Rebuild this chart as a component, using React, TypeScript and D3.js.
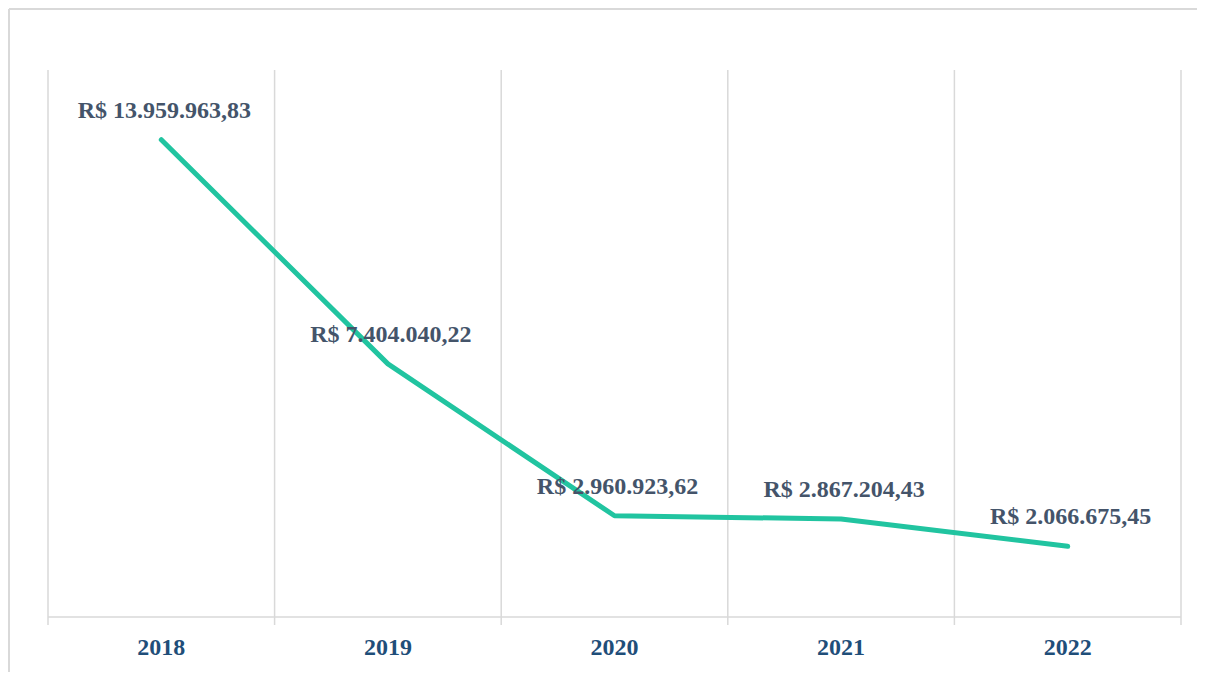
import React from "react";
import * as d3 from "d3";

const years = ["2018", "2019", "2020", "2021", "2022"];
const values = [13959963.83, 7404040.22, 2960923.62, 2867204.43, 2066675.45];
const yMax = 16000000;

const width = 1189;
const height = 664;
const margin = { top: 62, right: 16, bottom: 55, left: 40 };

const brl = d3.formatLocale({
  decimal: ",",
  thousands: ".",
  grouping: [3],
  currency: ["R$ ", ""],
});
const fmt = brl.format("$,.2f");

const App = () => {
  const x = d3
    .scaleBand()
    .domain(years)
    .range([margin.left, width - margin.right]);

  const y = d3
    .scaleLinear()
    .domain([0, yMax])
    .range([height - margin.bottom, margin.top]);

  const cx = (d) => x(d) + x.bandwidth() / 2;

  const line = d3
    .line()
    .x((d, i) => cx(years[i]))
    .y((d) => y(d));

  const base = y(0);
  const bounds = [...years.map((d) => x(d)), x(years[years.length - 1]) + x.bandwidth()];
  const font = "'Liberation Serif', 'Times New Roman', serif";

  return (
    <svg width={width} height={height} style={{ display: "block" }}>
      {/* only the top and left edges of the frame are in view */}
      <line x1={1} x2={width} y1={1} y2={1} stroke="#d9d9d9" strokeWidth={2} />
      <line x1={1} x2={1} y1={1} y2={height} stroke="#d9d9d9" strokeWidth={2} />
      {bounds.map((b, i) => (
        <line key={i} x1={b} x2={b} y1={margin.top} y2={base + 8} stroke="#d9d9d9" strokeWidth={1.5} />
      ))}
      <line x1={bounds[0]} x2={bounds[bounds.length - 1]} y1={base} y2={base} stroke="#d9d9d9" strokeWidth={1.5} />
      <path
        d={line(values)}
        fill="none"
        stroke="#21c4a0"
        strokeWidth={5}
        strokeLinecap="round"
        strokeLinejoin="round"
      />
      {values.map((v, i) => (
        <text
          key={i}
          x={cx(years[i]) + 3}
          y={y(v) - 22}
          textAnchor="middle"
          fontFamily={font}
          fontWeight="bold"
          fontSize={24}
          fill="#44546a"
        >
          {fmt(v)}
        </text>
      ))}
      {years.map((d) => (
        <text
          key={d}
          x={cx(d)}
          y={base + 38}
          textAnchor="middle"
          fontFamily={font}
          fontWeight="bold"
          fontSize={24}
          fill="#1f4e79"
        >
          {d}
        </text>
      ))}
    </svg>
  );
};

export default App;
